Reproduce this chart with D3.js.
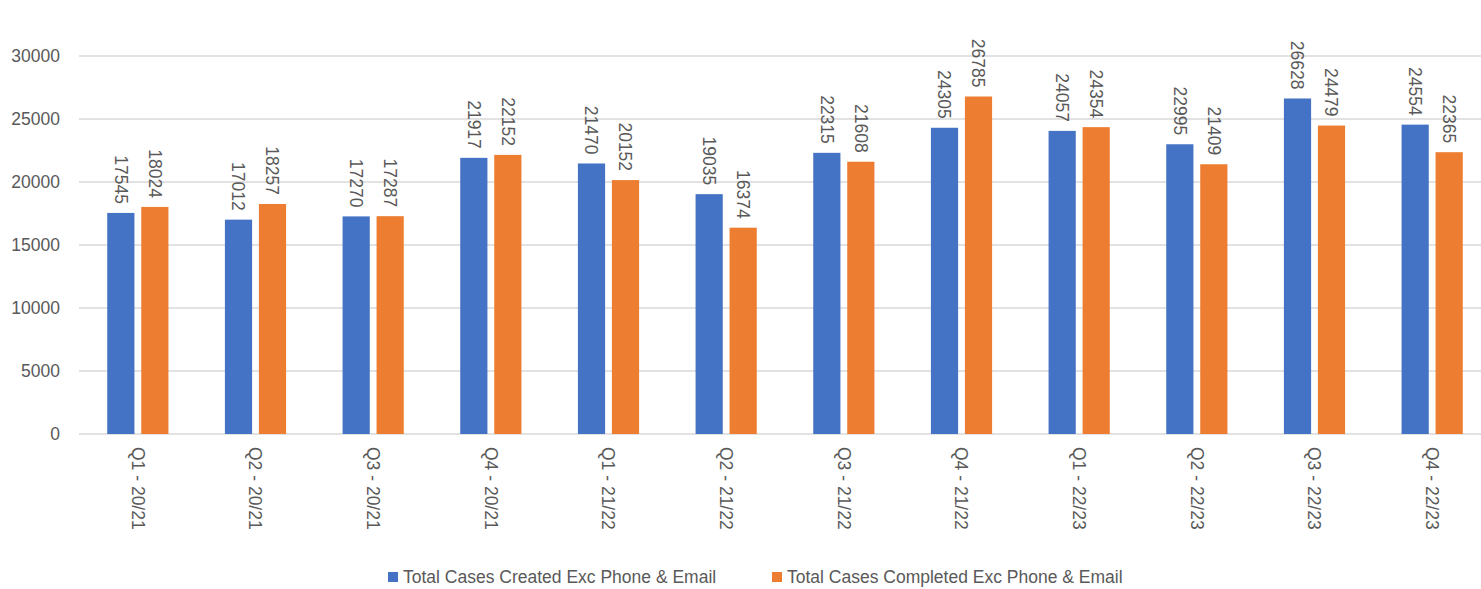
<!DOCTYPE html>
<html>
<head>
<meta charset="utf-8">
<script src="https://cdn.jsdelivr.net/npm/d3@7"></script>
<style>
  body { margin: 0; background: #fff; }
  text { font-family: 'Liberation Sans', Arial, sans-serif; fill: #595959; }
</style>
</head>
<body>
<div id="wrapper"></div>
<script>
const quarters = ['Q1 - 20/21', 'Q2 - 20/21', 'Q3 - 20/21', 'Q4 - 20/21',
    'Q1 - 21/22', 'Q2 - 21/22', 'Q3 - 21/22', 'Q4 - 21/22',
    'Q1 - 22/23', 'Q2 - 22/23', 'Q3 - 22/23', 'Q4 - 22/23']
const created = [17545, 17012, 17270, 21917, 21470, 19035, 22315, 24305, 24057, 22995, 26628, 24554]
const completed = [18024, 18257, 17287, 22152, 20152, 16374, 21608, 26785, 24354, 21409, 24479, 22365]
const seriesNames = ['Total Cases Created Exc Phone & Email', 'Total Cases Completed Exc Phone & Email']
const seriesColors = ['#4472C4', '#ED7D31']
const yTicks = [0, 5000, 10000, 15000, 20000, 25000, 30000]

function renderChart() {
    const dimensions = {
        width: 1481,
        height: 589,
        margins: { top: 56, right: -10, bottom: 155, left: 79 }
    }
    dimensions.boundedWidth = dimensions.width - dimensions.margins.left - dimensions.margins.right
    dimensions.boundedHeight = dimensions.height - dimensions.margins.top - dimensions.margins.bottom

    const data = quarters.map((q, i) => ({ quarter: q, values: [created[i], completed[i]] }))

    const wrapper = d3.select('#wrapper')
        .append('svg')
        .attr('width', dimensions.width)
        .attr('height', dimensions.height)

    const bounds = wrapper.append('g')
        .attr('transform', `translate(${dimensions.margins.left}, ${dimensions.margins.top})`)

    const xScale = d3.scaleBand()
        .domain(quarters)
        .range([0, dimensions.boundedWidth])
        .paddingInner(0.48)
        .paddingOuter(0.24)

    const subScale = d3.scaleBand()
        .domain([0, 1])
        .range([0, xScale.bandwidth()])
        .paddingInner(0.2)

    const yScale = d3.scaleLinear()
        .domain([0, 30000])
        .range([dimensions.boundedHeight, 0])

    // gridlines
    bounds.append('g')
        .selectAll('line')
        .data(yTicks)
        .join('line')
        .attr('x1', 0)
        .attr('x2', dimensions.boundedWidth)
        .attr('y1', d => yScale(d))
        .attr('y2', d => yScale(d))
        .attr('stroke', '#D9D9D9')
        .attr('stroke-width', 1.3)

    // y axis labels
    const yAxis = bounds.append('g')
        .call(d3.axisLeft(yScale).tickValues(yTicks).tickFormat(d3.format('d')).tickSize(0).tickPadding(19))
    yAxis.select('.domain').remove()
    yAxis.selectAll('text').style('font-size', '17.5px').attr('fill', '#595959')

    const groups = bounds.append('g')
        .selectAll('g')
        .data(data)
        .join('g')
        .attr('transform', d => `translate(${xScale(d.quarter)}, 0)`)

    groups.selectAll('rect')
        .data(d => d.values)
        .join('rect')
        .attr('x', (d, i) => subScale(i))
        .attr('y', d => yScale(d))
        .attr('width', subScale.bandwidth())
        .attr('height', d => dimensions.boundedHeight - yScale(d))
        .attr('fill', (d, i) => seriesColors[i])

    groups.selectAll('text')
        .data(d => d.values)
        .join('text')
        .attr('transform', (d, i) => `translate(${subScale(i) + subScale.bandwidth() / 2}, ${yScale(d) - 9}) rotate(90)`)
        .attr('text-anchor', 'end')
        .attr('dy', '0.35em')
        .style('font-size', '17.5px')
        .text(d => d)

    // x axis
    const xAxis = bounds.append('g')
        .attr('transform', `translate(0, ${dimensions.boundedHeight})`)
        .call(d3.axisBottom(xScale).tickSize(0).tickPadding(0))
    xAxis.select('.domain').remove()
    xAxis.selectAll('text')
        .attr('transform', 'translate(0, 13) rotate(90)')
        .attr('x', 0)
        .attr('y', 0)
        .attr('dy', '0.35em')
        .attr('text-anchor', 'start')
        .attr('fill', '#595959')
        .style('font-size', '17.5px')

    // legend
    const legendX = [388, 772]
    const legend = wrapper.append('g')
        .selectAll('g')
        .data(seriesNames)
        .join('g')
        .attr('transform', (d, i) => `translate(${legendX[i]}, 577)`)
    legend.append('rect')
        .attr('x', 0)
        .attr('y', -5)
        .attr('width', 10)
        .attr('height', 10)
        .attr('fill', (d, i) => seriesColors[i])
    legend.append('text')
        .attr('x', 15)
        .attr('dy', '0.35em')
        .style('font-size', '17.5px')
        .text(d => d)
}

renderChart()
</script>
</body>
</html>
